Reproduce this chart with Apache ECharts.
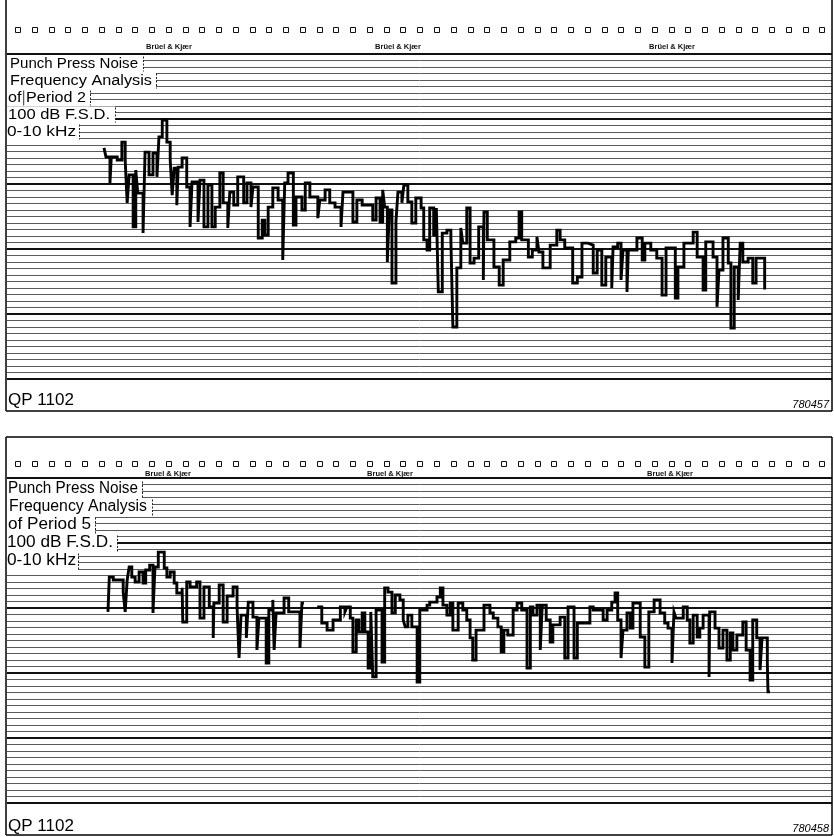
<!DOCTYPE html>
<html><head><meta charset="utf-8">
<script src="https://cdn.jsdelivr.net/npm/echarts@6/dist/echarts.min.js"></script>
<style>html,body{margin:0;padding:0;background:#fff}#c{width:834px;height:837px}</style>
</head><body><div id="c"></div>
<script>
// ---- Period 2 spectrum (frequency kHz, level dB re full scale 100 dB) ----
const freqTop = [0.00,0.03,0.09,0.11,0.20,0.27,0.32,0.35,0.38,0.44,
0.48,0.51,0.59,0.62,0.68,0.74,0.80,0.83,0.88,0.95,
1.00,1.03,1.06,1.10,1.12,1.18,1.25,1.30,1.33,1.42,
1.45,1.51,1.57,1.63,1.68,1.75,1.80,1.87,1.90,1.96,
2.02,2.11,2.16,2.22,2.25,2.33,2.39,2.43,2.48,2.55,
2.63,2.70,2.73,2.78,2.86,2.90,2.99,3.04,3.11,3.23,
3.26,3.34,3.41,3.49,3.58,3.61,3.76,3.82,3.90,4.06,
4.11,4.17,4.21,4.24,4.28,4.31,4.35,4.41,4.44,4.50,
4.53,4.59,4.65,4.71,4.79,4.83,4.88,4.92,4.98,5.02,
5.05,5.11,5.18,5.24,5.27,5.33,5.39,5.42,5.48,5.53,
5.59,5.66,5.73,5.74,5.79,5.89,5.97,6.03,6.13,6.22,
6.27,6.31,6.41,6.47,6.54,6.57,6.63,6.74,6.84,6.89,
6.96,7.08,7.15,7.22,7.31,7.39,7.45,7.52,7.58,7.67,
7.69,7.76,7.81,7.84,7.90,7.92,8.05,8.13,8.17,8.26,
8.35,8.43,8.49,8.63,8.67,8.76,8.90,8.96,9.05,9.09,
9.20,9.26,9.29,9.35,9.43,9.47,9.52,9.58,9.61,9.65,
9.73,9.80,9.85,9.98,10.00];
const levelTop = [71.1,68.3,60.3,68.3,67.4,72.9,67.4,54.2,62.8,46.8,
64.3,57.2,44.9,69.8,62.8,69.5,62.2,74.5,79.7,72.9,
67.4,56.6,64.9,53.5,65.2,68.0,59.1,46.8,60.6,48.3,
61.2,46.8,59.7,46.8,52.9,63.4,54.2,46.5,57.5,53.5,
62.2,54.2,60.3,52.9,59.1,43.4,48.9,44.3,52.9,58.8,
55.1,36.6,60.3,63.4,47.4,56.0,52.0,60.3,56.0,49.5,
55.1,58.2,54.2,52.9,46.8,57.5,48.3,55.1,53.5,48.9,
55.7,48.3,58.2,52.9,36.0,52.0,29.5,48.3,57.5,54.2,
59.7,54.5,48.0,55.7,52.6,42.8,39.7,52.6,44.3,52.6,
26.8,44.9,45.8,42.8,16.0,34.2,46.5,41.8,52.6,35.7,
37.2,46.8,30.5,51.4,42.8,34.5,28.9,36.6,42.2,43.4,
51.4,42.8,37.5,39.7,43.7,39.1,34.2,41.2,45.8,42.8,
40.3,29.5,31.4,41.8,41.2,32.6,39.7,28.9,37.5,28.0,
40.6,41.8,30.5,39.7,26.8,39.7,43.4,36.6,41.8,39.7,
37.2,25.8,40.3,24.9,34.5,41.8,45.2,37.5,27.4,42.2,
37.5,22.2,33.5,43.4,35.7,15.7,34.5,24.3,41.8,36.0,
37.2,29.5,37.2,28.0,28.0];

// ---- Period 5 spectrum ----
const freqBot = [0.06,0.08,0.14,0.29,0.32,0.35,0.38,0.42,0.47,0.53,
0.59,0.63,0.69,0.74,0.77,0.82,0.91,0.95,1.00,1.06,
1.10,1.18,1.19,1.25,1.30,1.40,1.45,1.51,1.59,1.65,
1.66,1.74,1.80,1.86,1.95,2.01,2.04,2.07,2.15,2.18,
2.25,2.31,2.34,2.45,2.49,2.55,2.57,2.60,2.72,2.79,
2.96,2.99,3.02,3.03,3.22,3.29,3.37,3.46,3.57,3.64,
3.67,3.72,3.76,3.81,3.85,3.90,3.94,3.99,4.03,4.06,
4.11,4.20,4.24,4.29,4.35,4.40,4.47,4.52,4.55,4.59,
4.65,4.73,4.77,4.88,4.92,5.03,5.08,5.12,5.18,5.23,
5.27,5.35,5.42,5.48,5.53,5.57,5.62,5.74,5.83,5.88,
5.95,6.00,6.04,6.10,6.18,6.24,6.31,6.39,6.44,6.48,
6.54,6.59,6.62,6.68,6.74,6.78,6.89,6.96,7.01,7.10,
7.15,7.34,7.39,7.54,7.60,7.67,7.72,7.76,7.81,7.84,
7.90,7.95,7.99,8.10,8.17,8.23,8.31,8.40,8.47,8.52,
8.58,8.61,8.64,8.75,8.81,8.85,8.90,8.96,9.00,9.05,
9.14,9.15,9.23,9.29,9.35,9.41,9.46,9.50,9.56,9.65,
9.70,9.76,9.80,9.86,9.91,9.94,10.02,10.03,10.06];
const levelBot = [58.8,69.5,68.6,64.9,58.8,68.6,72.6,69.5,68.0,71.1,
67.7,71.7,73.2,58.5,72.6,77.2,72.3,69.5,71.1,67.7,
64.6,66.2,55.7,68.0,66.5,68.0,56.9,66.5,60.3,50.8,
61.5,67.1,55.7,63.7,66.5,60.3,44.6,57.8,50.8,61.8,
57.2,47.1,56.9,43.1,59.4,62.5,47.1,58.5,63.1,58.8,
47.7,61.5,61.5,null,60.3,55.4,53.2,56.3,60.3,58.8,
60.3,56.9,46.5,56.3,52.6,58.5,52.6,41.5,58.8,38.8,
59.4,43.4,66.2,64.9,58.5,64.0,62.5,56.3,54.2,57.8,
54.2,37.2,59.4,60.9,61.8,63.4,66.2,60.9,57.8,61.5,
53.2,61.5,59.4,56.3,50.8,44.0,53.2,60.9,58.5,56.9,
54.2,46.5,53.2,51.7,59.4,61.5,59.4,41.5,60.3,57.8,
60.9,47.1,60.9,56.3,49.5,54.8,57.2,44.6,60.3,44.6,
55.4,60.3,59.4,56.3,59.4,61.8,64.6,56.3,44.6,53.2,
58.5,53.8,61.5,51.1,41.8,58.8,62.5,58.5,55.4,53.8,
43.1,58.8,56.9,60.3,56.3,49.2,57.8,51.1,53.8,57.8,
38.8,58.8,53.8,47.7,53.2,44.0,52.3,47.1,51.7,55.7,
47.1,37.8,56.3,50.8,40.9,50.8,43.1,34.2,34.2];

const labelsTop = ['Punch Press Noise','Frequency Analysis','of|Period 2','100 dB F.S.D.','0-10 kHz'];
const labelsBot = ['Punch Press Noise','Frequency Analysis','of Period 5','100 dB F.S.D.','0-10 kHz'];
const brandTop = 'Brüel & Kjær';
const brandBot = 'Bruel & Kjær';
const paperCode = 'QP 1102';
const chartNoTop = '780457';
const chartNoBot = '780458';

// ---- layout ----
const FONT = '"Liberation Sans", Arial, sans-serif';
const panels = [
  { gridTop: 54, frameTop: -2, frameBottom: 411, drawTopEdge: false, holesY: 27, brandY: 47,
    brandX: [169, 398, 672], rowY0: 63.5, rowStep: 17, rowH: 17,
    textL: [10, 10, 8, 8, 7], textR: [138, 152, 86, 110, 76], bracket: [143, 156, 90, 115, 79],
    labels: labelsTop, brand: brandTop, footY: 400, codeY: 405, code: chartNoTop, fontSize: 15.5 },
  { gridTop: 478, frameTop: 437, frameBottom: 835, drawTopEdge: true, holesY: 461, brandY: 474,
    brandX: [168, 390, 670], rowY0: 489, rowStep: 18, rowH: 18,
    textL: [8, 9, 8, 7, 7], textR: [138, 147, 91, 113, 76], bracket: [142, 152, 95, 117, 78],
    labels: labelsBot, brand: brandBot, footY: 826, codeY: 829, code: chartNoBot, fontSize: 16 }
];
const GRID_LEFT = 7, GRID_RIGHT_X = 832, GRID_H = 325;
const X0 = 104, PX_PER_KHZ = 66.2; // paper: 0 kHz at x=104
const xMin = (GRID_LEFT - X0) / PX_PER_KHZ, xMax = (GRID_RIGHT_X - X0) / PX_PER_KHZ;

const ctx = document.createElement('canvas').getContext('2d');
function measure(t, size) { ctx.font = size + 'px ' + FONT; return ctx.measureText(t).width; }

const graphics = [];
panels.forEach((p, pi) => {
  const st = { stroke: '#000', lineWidth: 1.5 };
  graphics.push({ type: 'line', z: 20, shape: { x1: 6, y1: p.frameTop, x2: 6, y2: p.frameBottom }, style: st });
  graphics.push({ type: 'line', z: 20, shape: { x1: 832, y1: p.frameTop, x2: 832, y2: p.frameBottom }, style: st });
  graphics.push({ type: 'line', z: 20, shape: { x1: 6, y1: p.frameBottom, x2: 832, y2: p.frameBottom }, style: st });
  if (p.drawTopEdge) graphics.push({ type: 'line', z: 20, shape: { x1: 6, y1: p.frameTop, x2: 832, y2: p.frameTop }, style: st });
  for (let i = 0; i < 49; i++) {
    const cx = 17.5 + i * 16.76;
    graphics.push({ type: 'rect', z: 20, shape: { x: Math.round(cx - 2.5) + 0.5, y: p.holesY + 0.5, width: 5, height: 5 },
      style: { fill: '#fff', stroke: '#111', lineWidth: 1 } });
  }
  p.brandX.forEach(bx => graphics.push({ type: 'text', z: 20, x: bx, y: p.brandY,
    style: { text: p.brand, font: 'bold 7.5px ' + FONT, fill: '#111', textAlign: 'center', textVerticalAlign: 'middle' } }));
  p.labels.forEach((lab, i) => {
    const cy = p.rowY0 + i * p.rowStep;
    const y0 = cy - p.rowH / 2 + 0.5;
    graphics.push({ type: 'rect', z: 30, shape: { x: 7, y: y0, width: p.bracket[i] - 7, height: p.rowH },
      style: { fill: '#fff', stroke: null } });
    graphics.push({ type: 'line', z: 31, shape: { x1: p.bracket[i] + 0.5, y1: y0 + 1, x2: p.bracket[i] + 0.5, y2: y0 + p.rowH - 1 },
      style: { stroke: '#222', lineWidth: 1, lineDash: [2, 1.5] } });
    const parts = lab.split('|');
    const whole = parts.join(' ');
    const w = measure(whole, p.fontSize);
    const sx = (p.textR[i] - p.textL[i]) / w;
    graphics.push({ type: 'text', z: 32, x: p.textL[i], y: cy, scaleX: sx,
      style: { text: whole, font: p.fontSize + 'px ' + FONT, fill: '#000', textAlign: 'left', textVerticalAlign: 'middle' } });
    if (parts.length > 1) {
      const sepX = p.textL[i] + (measure(parts[0], p.fontSize) + measure(' ', p.fontSize) / 2) * sx;
      graphics.push({ type: 'line', z: 32, shape: { x1: sepX, y1: y0 + 1, x2: sepX, y2: y0 + p.rowH - 1 },
        style: { stroke: '#333', lineWidth: 1 } });
    }
  });
  graphics.push({ type: 'text', z: 20, x: 8, y: p.footY,
    style: { text: paperCode, font: '17px ' + FONT, fill: '#000', textAlign: 'left', textVerticalAlign: 'middle' } });
  graphics.push({ type: 'text', z: 20, x: 829, y: p.codeY,
    style: { text: p.code, font: 'italic 11px ' + FONT, fill: '#000', textAlign: 'right', textVerticalAlign: 'middle' } });
});

const grids = panels.map(p => ({ left: GRID_LEFT, right: 834 - GRID_RIGHT_X, top: p.gridTop, height: GRID_H, containLabel: false }));
const xAxes = panels.map((p, i) => ({ type: 'value', gridIndex: i, min: xMin, max: xMax, show: false }));
const yAxes = [];
panels.forEach((p, i) => {
  yAxes.push({ type: 'value', gridIndex: i, min: 0, max: 100, interval: 2, axisLabel: { show: false },
    axisLine: { show: false }, axisTick: { show: false },
    splitLine: { show: true, lineStyle: { color: '#5a5a5a', width: 1 } } });
  yAxes.push({ type: 'value', gridIndex: i, min: 0, max: 100, interval: 20, position: 'left', axisLabel: { show: false },
    axisLine: { show: false }, axisTick: { show: false },
    splitLine: { show: true, lineStyle: { color: '#111', width: 2 } } });
});
function pairs(f, l) { return f.map((v, i) => [v, l[i] == null ? '-' : l[i]]); }
const traceStyle = { color: '#000', width: 2.9, join: 'miter' };
const series = [
  { type: 'line', xAxisIndex: 0, yAxisIndex: 0, step: 'end', symbol: 'none', z: 5, silent: true, animation: false,
    lineStyle: traceStyle, data: pairs(freqTop, levelTop) },
  { type: 'line', xAxisIndex: 1, yAxisIndex: 2, step: 'end', symbol: 'none', z: 5, silent: true, animation: false,
    lineStyle: traceStyle, data: pairs(freqBot, levelBot) }
];
const chart = echarts.init(document.getElementById('c'), null, { renderer: 'canvas' });
chart.setOption({ backgroundColor: '#fff', animation: false, grid: grids, xAxis: xAxes, yAxis: yAxes, series, graphic: graphics });
</script></body></html>
